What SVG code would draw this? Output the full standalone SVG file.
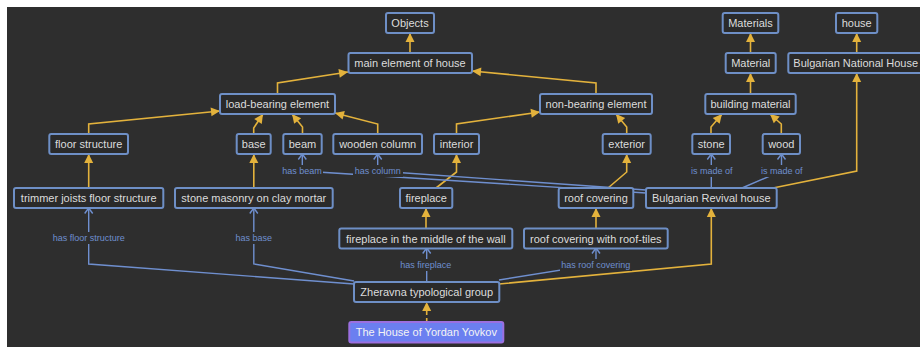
<svg xmlns="http://www.w3.org/2000/svg" width="920" height="347" viewBox="0 0 920 347">
<style>
.bg{fill:#2e2e2e}
.n rect{fill:#2a2a2a;stroke:#6e8fc6;stroke-width:2}
.n text{font-family:"Liberation Sans",Arial,sans-serif;font-size:11px;fill:#dcdcdc;text-anchor:middle}
.y{fill:none;stroke:#e3b23c;stroke-width:1.6}
.d{stroke-dasharray:4 3}
.b{fill:none;stroke:#6f8fcf;stroke-width:1.4}
.lb rect{fill:#2e2e2e}
.lb text{font-family:"Liberation Sans",Arial,sans-serif;font-size:9px;fill:#6f8fcf;text-anchor:middle}
</style>
<defs>
<marker id="ya" markerUnits="userSpaceOnUse" viewBox="-10 -6 12 12" refX="0" refY="0" markerWidth="12" markerHeight="12" orient="auto">
<path d="M-9,-4.5 L0,0 L-9,4.5 Z" fill="#e3b23c"/>
</marker>
<marker id="ba" markerUnits="userSpaceOnUse" viewBox="-8 -6 10 12" refX="0" refY="0" markerWidth="10" markerHeight="12" orient="auto">
<path d="M-5.5,-4 L0,0 L-5.5,4" fill="none" stroke="#6f8fcf" stroke-width="1.4"/>
</marker>
</defs>
<rect width="920" height="347" fill="#ffffff"/>
<rect class="bg" x="7" y="7" width="913" height="340"/>
<g id="connectors">
<path class="y" marker-end="url(#ya)" d="M410,53 V33"/>
<path class="y" marker-end="url(#ya)" d="M277.5,94 V83 L348,72"/>
<path class="y" marker-end="url(#ya)" d="M596,94 V83 L472,71"/>
<path class="y" marker-end="url(#ya)" d="M88.7,134 V124 L220,111"/>
<path class="y" marker-end="url(#ya)" d="M253.7,134 V128 L263,114"/>
<path class="y" marker-end="url(#ya)" d="M302.5,134 V127 L292,114"/>
<path class="y" marker-end="url(#ya)" d="M377.7,134 V124 L335,113"/>
<path class="y" marker-end="url(#ya)" d="M456.5,134 V124 L540,112"/>
<path class="y" marker-end="url(#ya)" d="M626.7,134 V127 L616,114"/>
<path class="y" marker-end="url(#ya)" d="M711,134 V127 L722,114"/>
<path class="y" marker-end="url(#ya)" d="M781.3,134 V124 L770,114"/>
<path class="y" marker-end="url(#ya)" d="M750.5,94 V73"/>
<path class="y" marker-end="url(#ya)" d="M750.5,53 V33"/>
<path class="y" marker-end="url(#ya)" d="M856.7,53 V33"/>
<path class="y" marker-end="url(#ya)" d="M773,188 L856.7,171 V73"/>
<path class="y" marker-end="url(#ya)" d="M88.7,188 V154"/>
<path class="y" marker-end="url(#ya)" d="M253.8,188 V154"/>
<path class="y" marker-end="url(#ya)" d="M436,188 L456.5,172 V154"/>
<path class="y" marker-end="url(#ya)" d="M608,188 L626.7,172 V154"/>
<path class="y" marker-end="url(#ya)" d="M426,229 V208"/>
<path class="y" marker-end="url(#ya)" d="M596,229 V208"/>
<path class="y" marker-end="url(#ya)" d="M499,284 L711.3,264 V208"/>
<path class="y d" marker-end="url(#ya)" d="M426.7,322 V302"/>
<path class="b" marker-end="url(#ba)" d="M354,284 L88.7,264 V208"/>
<path class="b" marker-end="url(#ba)" d="M354,281 L253.8,264 V208"/>
<path class="b" marker-end="url(#ba)" d="M426.7,282 V248"/>
<path class="b" marker-end="url(#ba)" d="M499,280 L596,264.5 V248"/>
<path class="b" marker-end="url(#ba)" d="M646,193 L302.3,171 V154"/>
<path class="b" marker-end="url(#ba)" d="M646,190 L377.7,171 V154"/>
<path class="b" marker-end="url(#ba)" d="M711.3,188 V154"/>
<path class="b" marker-end="url(#ba)" d="M742,188 L781.5,171 V154"/>
<g class="lb">
<rect x="52" y="232" width="73" height="12"/><text x="88.7" y="241">has floor structure</text>
<rect x="234" y="232" width="39" height="12"/><text x="253.8" y="241">has base</text>
<rect x="399" y="259" width="54" height="12"/><text x="425.8" y="268">has fireplace</text>
<rect x="560" y="259" width="72" height="12"/><text x="595.8" y="268">has roof covering</text>
<rect x="281" y="165" width="42" height="12"/><text x="302" y="174">has beam</text>
<rect x="353" y="165" width="50" height="12"/><text x="377.8" y="174">has column</text>
<rect x="689" y="165" width="45" height="12"/><text x="711.7" y="174">is made of</text>
<rect x="759" y="165" width="45" height="12"/><text x="781.7" y="174">is made of</text>
</g>
</g>
<g id="objects" class="n"><rect x="386" y="13" width="48" height="20" rx="2"/><text x="410" y="27">Objects</text></g>
<g id="main-element" class="n"><rect x="348.5" y="53" width="123.5" height="20" rx="2"/><text x="410" y="67">main element of house</text></g>
<g id="materials" class="n"><rect x="722.7" y="13" width="55.6" height="20" rx="2"/><text x="750.5" y="27">Materials</text></g>
<g id="house" class="n"><rect x="836" y="13" width="41.3" height="20" rx="2"/><text x="856.7" y="27">house</text></g>
<g id="material" class="n"><rect x="725.7" y="53" width="50" height="20" rx="2"/><text x="750.7" y="67">Material</text></g>
<g id="bulgarian-national-house" class="n"><rect x="788.3" y="53" width="135" height="20" rx="2"/><text x="855.7" y="67">Bulgarian National House</text></g>
<g id="load-bearing" class="n"><rect x="220" y="94" width="115" height="20" rx="2"/><text x="277.5" y="108">load-bearing element</text></g>
<g id="non-bearing" class="n"><rect x="540" y="94" width="112" height="20" rx="2"/><text x="596" y="108">non-bearing element</text></g>
<g id="building-material" class="n"><rect x="705.3" y="94" width="90.4" height="20" rx="2"/><text x="750.5" y="108">building material</text></g>
<g id="floor-structure" class="n"><rect x="49.3" y="134" width="78.7" height="20" rx="2"/><text x="88.7" y="148">floor structure</text></g>
<g id="base" class="n"><rect x="236.7" y="134" width="34" height="20" rx="2"/><text x="253.7" y="148">base</text></g>
<g id="beam" class="n"><rect x="283.3" y="134" width="38.4" height="20" rx="2"/><text x="302.5" y="148">beam</text></g>
<g id="wooden-column" class="n"><rect x="333.3" y="134" width="88.7" height="20" rx="2"/><text x="377.7" y="148">wooden column</text></g>
<g id="interior" class="n"><rect x="434" y="134" width="45" height="20" rx="2"/><text x="456.5" y="148">interior</text></g>
<g id="exterior" class="n"><rect x="602.7" y="134" width="48" height="20" rx="2"/><text x="626.7" y="148">exterior</text></g>
<g id="stone" class="n"><rect x="692.3" y="134" width="37.7" height="20" rx="2"/><text x="711.2" y="148">stone</text></g>
<g id="wood" class="n"><rect x="762.7" y="134" width="37.3" height="20" rx="2"/><text x="781.3" y="148">wood</text></g>
<g id="trimmer-joists" class="n"><rect x="14" y="188" width="149.3" height="20" rx="2"/><text x="88.7" y="202">trimmer joists floor structure</text></g>
<g id="stone-masonry" class="n"><rect x="175" y="188" width="157.7" height="20" rx="2"/><text x="253.8" y="202">stone masonry on clay mortar</text></g>
<g id="fireplace" class="n"><rect x="400" y="188" width="52.3" height="20" rx="2"/><text x="426.2" y="202">fireplace</text></g>
<g id="roof-covering" class="n"><rect x="558.7" y="188" width="74.6" height="20" rx="2"/><text x="596" y="202">roof covering</text></g>
<g id="bulgarian-revival-house" class="n"><rect x="646" y="188" width="130.7" height="20" rx="2"/><text x="711.3" y="202">Bulgarian Revival house</text></g>
<g id="fireplace-middle" class="n"><rect x="339.3" y="228.5" width="173" height="20" rx="2"/><text x="425.8" y="242.5">fireplace in the middle of the wall</text></g>
<g id="roof-tiles" class="n"><rect x="524" y="228.5" width="143.7" height="20" rx="2"/><text x="595.8" y="242.5">roof covering with roof-tiles</text></g>
<g id="zheravna" class="n"><rect x="354" y="282" width="145.3" height="20" rx="2"/><text x="426.7" y="296">Zheravna typological group</text></g>
<g id="yordan-yovkov"><rect x="349.3" y="322" width="154" height="20.5" rx="2" fill="#6b7ff0" stroke="#9b6fe0" stroke-width="2"/><text x="426.3" y="336" font-family="Liberation Sans, Arial, sans-serif" font-size="11" fill="#f4f4f4" text-anchor="middle">The House of Yordan Yovkov</text></g>
</svg>
